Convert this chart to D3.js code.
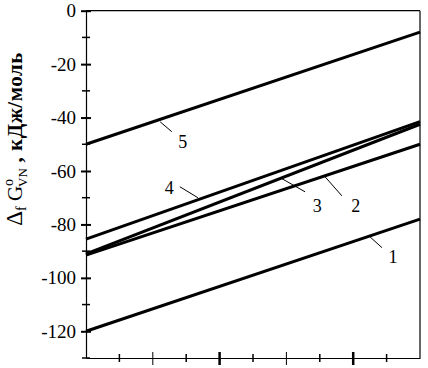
<!DOCTYPE html>
<html><head><meta charset="utf-8">
<script src="https://cdn.jsdelivr.net/npm/d3@7"></script>
<style>body{margin:0;background:#fff}svg{display:block}svg text{font-family:"Liberation Serif","Times New Roman","DejaVu Serif",serif !important}</style>
</head><body><svg id="c" width="428" height="368"></svg>
<script>
// Series: value at left end (x=0) and right end (x=10), kJ/mol
const seriesNames = ["1", "2", "3", "4", "5"];
const xPoints = [0, 10];
const series1 = [-120, -78];
const series2 = [-91.5, -50];
const series3 = [-91, -42.5];
const series4 = [-85.5, -41.5];
const series5 = [-50, -8];
const yTicksMajor = [0, -20, -40, -60, -80, -100, -120];
const yTicksMinor = [-10, -30, -50, -70, -90, -110, -130];
const xTicks = [1, 2, 3, 4, 5, 6, 7, 8, 9];
// Annotation positions in data units: label [x,y], leader from [x,y] to [x,y]
const labelPos = [[9.19, -92.1], [8.08, -73], [6.92, -73], [2.49, -66.3], [2.9, -49.1]];
const leaderFrom = [[8.86, -88.7], [7.66, -69.3], [6.56, -67.8], [2.81, -65.9], [2.57, -45.3]];
const leaderTo = [[8.5, -84.6], [7.16, -62.2], [5.87, -62.9], [3.35, -70.0], [2.22, -41.6]];

const allSeries = [series1, series2, series3, series4, series5];
const svg = d3.select("#c");
const L = 86, R = 420, T = 10.7, B = 358;
const x = d3.scaleLinear().domain([0, 10]).range([L, R]);
const y = d3.scaleLinear().domain([-130, 0]).range([B, T]);
const serif = "'Liberation Serif', 'Times New Roman', serif";

// frame
svg.append("line").attr("x1", L).attr("x2", R).attr("y1", T).attr("y2", T).attr("stroke", "#000").attr("stroke-width", 1.2);
svg.append("line").attr("x1", R).attr("x2", R).attr("y1", T).attr("y2", B).attr("stroke", "#000").attr("stroke-width", 1.2);

// y axis
const yAx = svg.append("g").attr("transform", `translate(${L},0)`)
  .call(d3.axisLeft(y).tickValues(yTicksMajor).tickSize(0).tickPadding(10).tickFormat(d => d === 0 ? "0" : "-" + Math.abs(d)));
yAx.attr("font-family", serif);
yAx.select(".domain").attr("stroke-width", 1.2);
yAx.selectAll("text").attr("font-size", 19).style("font-family", serif).attr("fill", "#000");
yAx.selectAll(".tick").append("line").attr("x1", -5).attr("x2", 5).attr("stroke", "#000").attr("stroke-width", 2);
svg.append("g").selectAll("line").data(yTicksMinor).join("line")
  .attr("x1", L - 4).attr("x2", L + 4).attr("y1", d => y(d)).attr("y2", d => y(d)).attr("stroke", "#000").attr("stroke-width", 1.5);

// x axis
const xAx = svg.append("g").attr("transform", `translate(0,${B})`)
  .call(d3.axisBottom(x).tickValues([]).tickSize(0).tickSizeOuter(0));
xAx.select(".domain").attr("stroke-width", 1.2);
svg.append("g").selectAll("line").data(xTicks).join("line")
  .attr("x1", d => x(d)).attr("x2", d => x(d))
  .attr("y1", d => B - (d % 2 === 0 ? 6 : 4)).attr("y2", d => B + (d % 2 === 0 ? 7 : 4))
  .attr("stroke", "#000").attr("stroke-width", d => d % 4 === 0 ? 2.5 : (d % 2 === 0 ? 1 : 1.5));

// lines
const line = d3.line().x((d, i) => x(xPoints[i])).y(d => y(d));
svg.append("g").selectAll("path").data(allSeries).join("path")
  .attr("d", d => line(d)).attr("fill", "none").attr("stroke", "#000").attr("stroke-width", 3);

// leaders and labels
svg.append("g").selectAll("line").data(seriesNames).join("line")
  .attr("x1", (d, i) => x(leaderFrom[i][0])).attr("y1", (d, i) => y(leaderFrom[i][1]))
  .attr("x2", (d, i) => x(leaderTo[i][0])).attr("y2", (d, i) => y(leaderTo[i][1]))
  .attr("stroke", "#000").attr("stroke-width", 1);
svg.append("g").selectAll("text").data(seriesNames).join("text")
  .attr("x", (d, i) => x(labelPos[i][0])).attr("y", (d, i) => y(labelPos[i][1]))
  .attr("dy", "0.35em").attr("text-anchor", "middle").attr("font-size", 18).style("font-family", serif).text(d => d);

// y axis title
const t = svg.append("text").attr("transform", "translate(22,139) rotate(-90)")
  .attr("text-anchor", "middle").attr("font-size", 21).style("font-family", serif);
t.append("tspan").attr("font-size", 23).text("Δ");
t.append("tspan").attr("font-size", 14).attr("dy", 4).text("f");
t.append("tspan").attr("dy", -4).text(" G");
t.append("tspan").attr("font-size", 14).attr("dy", -9).text("o");
t.append("tspan").attr("font-size", 13).attr("dx", -8).attr("dy", 14).text("VN");
t.append("tspan").attr("dy", -5).attr("font-weight", "bold").attr("letter-spacing", 0.5).text(" , кДж/моль");
</script></body></html>
